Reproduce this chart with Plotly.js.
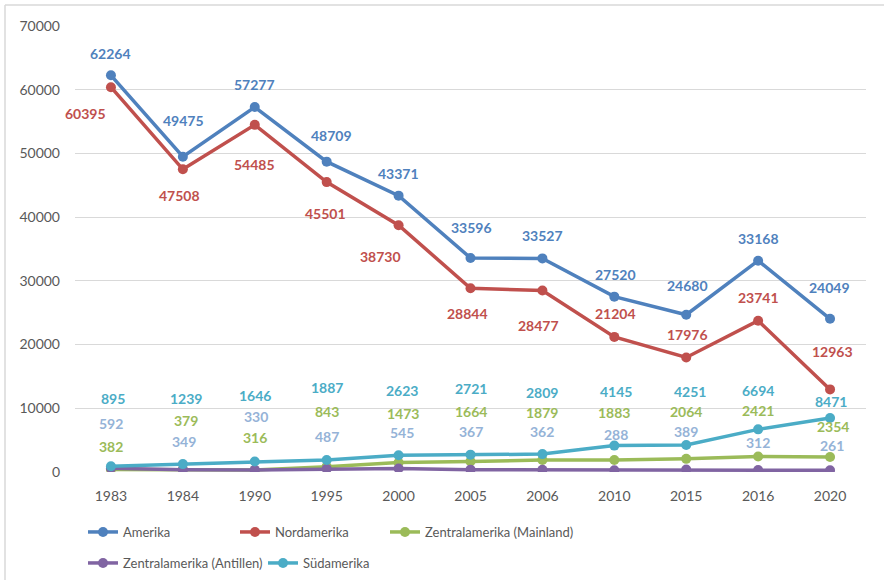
<!DOCTYPE html>
<html>
<head>
<meta charset="utf-8">
<script src="https://cdn.plot.ly/plotly-3.0.1.min.js"></script>
<style>html,body{margin:0;padding:0;background:#fff;}#chart{width:884px;height:585px;}</style>
</head>
<body>
<div id="chart"></div>
<script>
// ---- data ----
const years = ["1983","1984","1990","1995","2000","2005","2006","2010","2015","2016","2020"];
const amerika = [62264,49475,57277,48709,43371,33596,33527,27520,24680,33168,24049];
const nordamerika = [60395,47508,54485,45501,38730,28844,28477,21204,17976,23741,12963];
const mainland = [382,379,316,843,1473,1664,1879,1883,2064,2421,2354];
const antillen = [592,349,330,487,545,367,362,288,389,312,261];
const suedamerika = [895,1239,1646,1887,2623,2721,2809,4145,4251,6694,8471];
const yTicks = [0,10000,20000,30000,40000,50000,60000,70000];

// ---- label offsets (pixels, layout only) ----
const amerikaDX = [0,1,0,5,0,1,0,1,1,0,-1];
const amerikaDY = [22,36,23,26,22,30,23,22,29,22,31];
const nordDX = [-25,-3,0,-1,-18,-3,-4,1,1,0,2];
const nordDY = [-26,-26,-40,-31,-31,-25,-35,23,23,23,38];
const mainDX = [0,3,0,0,4,0,0,0,0,0,3];
const mainDY = [23,49,32,55,49,50,48,48,47,46,31];
const antDX = [0,1,1,0,3,0,0,2,0,0,2];
const antDY = [45,28,53,32,36,38,38,36,38,28,25];
const suedDX = [2,3,0,0,3,0,0,2,4,0,1];
const suedDY = [68,66,66,72,65,66,62,54,53,39,17];

const C = {
  am: "#4F81BD", nord: "#C0504D", main: "#9BBB59", ant: "#8064A2", sued: "#4BACC6", antLabel: "#95B3D7"
};
const FONT = "Lato, 'Open Sans', sans-serif";

function trace(name, y, color, legend) {
  return {
    type: "scatter", mode: "lines+markers", name: name, x: years, y: y,
    line: {color: color, width: 3.5},
    marker: {color: color, size: 10},
    legend: legend,
    hoverinfo: "skip"
  };
}

const data = [
  trace("Amerika", amerika, C.am, "legend"),
  trace("Nordamerika", nordamerika, C.nord, "legend2"),
  trace("Zentralamerika (Mainland)", mainland, C.main, "legend3"),
  trace("Zentralamerika (Antillen)", antillen, C.ant, "legend4"),
  trace("Südamerika", suedamerika, C.sued, "legend5")
];

const annotations = [];
function addLabels(vals, dx, dy, color) {
  vals.forEach((v, i) => {
    annotations.push({
      x: i, y: v, xref: "x", yref: "y", text: String(v), showarrow: false,
      xshift: dx[i], yshift: dy[i],
      font: {family: FONT, size: 14, color: color, weight: "bold"}
    });
  });
}
addLabels(amerika, amerikaDX, amerikaDY, C.am);
addLabels(nordamerika, nordDX, nordDY, C.nord);
addLabels(mainland, mainDX, mainDY, C.main);
addLabels(antillen, antDX, antDY, C.antLabel);
addLabels(suedamerika, suedDX, suedDY, C.sued);

function leg(xpx, ypx) {
  return {
    orientation: "h", xref: "container", yref: "container", xanchor: "left", yanchor: "top",
    x: xpx / 884, y: 1 - ypx / 585,
    itemwidth: 30, bgcolor: "rgba(0,0,0,0)",
    font: {family: FONT, size: 13, color: "#595959"}, itemclick: false, itemdoubleclick: false
  };
}

const layout = {
  width: 884, height: 585,
  margin: {l: 75, r: 18, t: 26, b: 113},
  paper_bgcolor: "#ffffff", plot_bgcolor: "#ffffff",
  font: {family: FONT, size: 14, color: "#595959"},
  showlegend: true,
  xaxis: {
    type: "category", range: [-0.5, 10.5], showgrid: false, zeroline: false, showline: false,
    ticks: "", ticklabelstandoff: 14, tickfont: {family: FONT, size: 14, color: "#595959"}, fixedrange: true
  },
  yaxis: {
    range: [0, 70000], tickvals: yTicks, ticktext: yTicks.map(String), showgrid: true,
    gridcolor: "#D9D9D9", gridwidth: 1, zeroline: false, showline: false, ticks: "",
    ticklabelstandoff: 14, tickfont: {family: FONT, size: 14, color: "#595959"}, fixedrange: true
  },
  legend: leg(83, 517),
  legend2: leg(235, 517),
  legend3: leg(385, 517),
  legend4: leg(83, 548),
  legend5: leg(263, 548),
  annotations: annotations,
  shapes: [
    {type: "line", xref: "paper", yref: "paper", x0: -0.0885, x1: -0.0885, y0: -0.2422, y1: 1.047,
     line: {color: "#D9D9D9", width: 1.5}},
    {type: "line", xref: "paper", yref: "paper", x0: -0.0885, x1: 1.03, y0: 1.047, y1: 1.047,
     line: {color: "#D9D9D9", width: 1.5}}
  ]
};

Plotly.newPlot("chart", data, layout, {displayModeBar: false, staticPlot: true});
</script>
</body>
</html>
